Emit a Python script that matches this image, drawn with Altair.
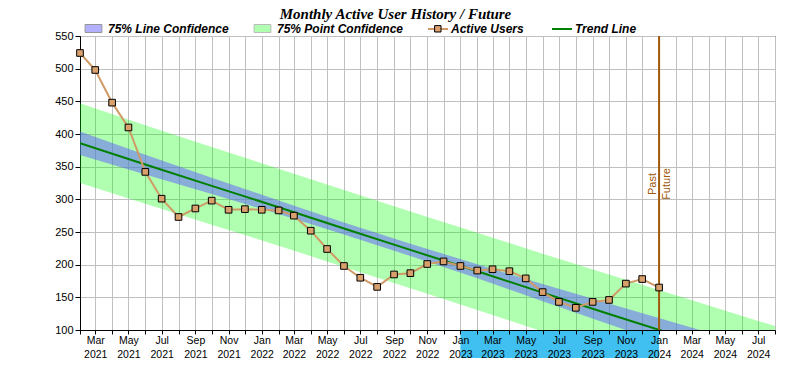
import altair as alt
import pandas as pd

# ---------------- data ----------------
months = pd.date_range("2021-02-01", "2024-01-01", freq="MS").strftime("%Y-%m-%d").tolist()
active_users = [524, 498, 448, 410, 342, 301, 273, 286, 298, 284,
                285, 284, 283, 275, 252, 224, 198, 180, 166, 185,
                187, 201, 205, 198, 191, 193, 190, 179, 158, 143,
                134, 143, 146, 171, 178, 165]

band_dates = ["2021-02-01", "2021-06-01", "2021-10-01", "2022-02-01", "2022-06-01",
              "2022-10-01", "2023-02-01", "2023-06-01", "2023-10-01", "2024-02-01",
              "2024-08-01"]
trend_line = [386.0, 353.3, 320.6, 288.0, 255.3, 222.6, 189.9, 157.2, 124.6, 91.9, 42.9]
line_conf_lo = [368.0, 338.2, 308.2, 277.6, 246.0, 213.2, 179.1, 144.1, 108.8, 73.1, 19.4]
line_conf_hi = [404.0, 368.4, 333.0, 298.4, 264.6, 232.0, 200.7, 170.3, 140.4, 110.7, 66.4]
point_conf_lo = [325.0, 293.2, 261.1, 229.0, 196.5, 163.8, 130.8, 97.6, 64.3, 30.6, -20.2]
point_conf_hi = [447.0, 413.4, 380.1, 347.0, 314.1, 281.4, 249.0, 216.8, 184.9, 153.2, 106.0]

divider_date = ["2024-01-01"]
divider_label_pos = [323.5]
highlight_start = ["2023-01-01"]
highlight_end = ["2024-01-01"]
y_ticks = list(range(100, 551, 50))

TITLE = "Monthly Active User History / Future"
BROWN = "#a0580a"
TAN_LINE = "#d09a66"
TAN_FILL = "#d9a06c"
SWATCH = "M-1.05,-0.5H1.05V0.5H-1.05Z"
LINE_SYM = "M-1.25,0H1.25"

# ---------------- frames ----------------
users_df = pd.DataFrame({"date": months, "users": active_users})
band_df = pd.DataFrame({"date": band_dates, "trend": trend_line,
                        "lc_lo": line_conf_lo, "lc_hi": line_conf_hi,
                        "pc_lo": point_conf_lo, "pc_hi": point_conf_hi})
div_df = pd.DataFrame({"date": divider_date, "pos": divider_label_pos})
hl_df = pd.DataFrame({"start": highlight_start, "end": highlight_end})

x_scale = alt.Scale(type="utc", nice=False,
                    domain=[alt.DateTime(year=2021, month=2, date=1, utc=True),
                            alt.DateTime(year=2024, month=8, date=1, utc=True)])
y_scale = alt.Scale(domain=[100, 550], nice=False, zero=False)
month_ticks = {"interval": "month", "step": 1}

x_grid = alt.X("date:T", scale=x_scale,
               axis=alt.Axis(orient="bottom", grid=True, gridColor="#c0c0c0", gridWidth=1,
                             labels=False, ticks=False, domain=False, title=None,
                             tickCount=month_ticks, zindex=0))
y_axis = alt.Axis(values=y_ticks, title=None, grid=True, gridColor="#c0c0c0",
                  tickSize=5, tickColor="black", labelPadding=2, labelFontSize=11,
                  labelFont="Liberation Sans", labelColor="black",
                  domain=True, domainColor="black", zindex=0)

LEG_Y = -16


def one_scale(name, colour):
    return alt.Scale(domain=[name], range=[colour])


point_band = alt.Chart(band_df).transform_calculate(series="'75% Point Confidence'").mark_area(
    opacity=1, fillOpacity=0.31, clip=True).encode(
    x=x_grid, y=alt.Y("pc_lo:Q", scale=y_scale, axis=y_axis), y2="pc_hi:Q",
    fill=alt.Fill("series:N", scale=one_scale("75% Point Confidence", "#00ff00"),
                  legend=alt.Legend(legendX=174, legendY=LEG_Y, symbolType=SWATCH,
                                    symbolOpacity=0.3, symbolStrokeColor="#202020",
                                    symbolStrokeWidth=1, labelOffset=6)))

line_band = alt.Chart(band_df).transform_calculate(series="'75% Line Confidence'").mark_area(
    opacity=1, fillOpacity=0.5, clip=True).encode(
    x=x_grid, y=alt.Y("lc_lo:Q", scale=y_scale, axis=y_axis), y2="lc_hi:Q",
    fill=alt.Fill("series:N", scale=one_scale("75% Line Confidence", "#605cff"),
                  legend=alt.Legend(legendX=5, legendY=LEG_Y, symbolType=SWATCH,
                                    symbolOpacity=0.47, symbolStrokeColor="#202020",
                                    symbolStrokeWidth=1, labelOffset=6)))

trend = alt.Chart(band_df).transform_calculate(series="'Trend Line'").mark_line(
    strokeWidth=2, clip=True).encode(
    x=x_grid, y=alt.Y("trend:Q", scale=y_scale, axis=y_axis),
    stroke=alt.Stroke("series:N", scale=one_scale("Trend Line", "#008000"),
                      legend=alt.Legend(legendX=473, legendY=LEG_Y, symbolType=LINE_SYM,
                                        symbolStrokeWidth=2, labelOffset=4)))

divider = alt.Chart(div_df).mark_rule(color=BROWN, strokeWidth=2).encode(x=x_grid)

users_line = alt.Chart(users_df).transform_calculate(series="'Active Users'").mark_line(
    strokeWidth=2, clip=True).encode(
    x=x_grid, y=alt.Y("users:Q", scale=y_scale, axis=y_axis),
    stroke=alt.Stroke("series:N", scale=one_scale("Active Users", TAN_LINE),
                      legend=alt.Legend(legendX=349, legendY=LEG_Y, symbolType=LINE_SYM,
                                        symbolStrokeWidth=2, labelOffset=4)))

users_pts = alt.Chart(users_df).transform_calculate(series="'Active Users'").mark_square(
    size=44, stroke="black", strokeWidth=1, opacity=1, fillOpacity=1).encode(
    x=x_grid, y=alt.Y("users:Q", scale=y_scale, axis=y_axis),
    fill=alt.Fill("series:N", scale=one_scale("Active Users", TAN_FILL),
                  legend=alt.Legend(legendX=353.8, legendY=LEG_Y + 4.8, symbolType="square",
                                    symbolSize=41, labelExpr="''", labelFontSize=1,
                                    symbolStrokeColor="black", symbolStrokeWidth=1)))

past_txt = alt.Chart(div_df).transform_calculate(label="'Past'").mark_text(
    angle=270, align="center", baseline="bottom", dy=-1, font="Liberation Sans", fontSize=11,
    color=BROWN).encode(x=x_grid, y=alt.Y("pos:Q", scale=y_scale, axis=y_axis), text="label:N")

future_txt = alt.Chart(div_df).transform_calculate(label="'Future'").mark_text(
    angle=270, align="center", baseline="top", dy=2, font="Liberation Sans", fontSize=11,
    color=BROWN).encode(x=x_grid, y=alt.Y("pos:Q", scale=y_scale, axis=y_axis), text="label:N")

plot_layers = alt.layer(point_band, line_band, trend, divider, users_line, users_pts,
                        past_txt, future_txt).resolve_scale(fill="independent",
                                                            stroke="independent")

x_labels = alt.X("start:T", scale=x_scale,
                 axis=alt.Axis(orient="bottom", grid=False, title=None, tickCount=month_ticks,
                               tickSize=4, tickColor="black", domain=True, domainColor="black",
                               labelExpr="utcmonth(datum.value) % 2 == 0 ? [utcFormat(datum.value, '%b'), utcFormat(datum.value, '%Y')] : ''",
                               labelFont="Liberation Sans", labelFontSize=10.5, labelColor="black",
                               labelLineHeight=14, labelPadding=1, labelOverlap=False,
                               labelBound=False, labelFlush=False, zindex=1))

highlight = alt.Chart(hl_df).mark_rect(color="#40c0f0", clip=False).encode(
    x=x_labels, x2="end:T", y=alt.value(294), y2=alt.value(330))

chart = alt.layer(highlight, plot_layers).resolve_axis(x="independent").properties(
    width=695, height=294,
    padding={"left": 72, "top": 28, "right": 7, "bottom": 28},
    autosize=alt.AutoSizeParams(type="none"),
    title=alt.TitleParams(TITLE, font="Liberation Serif", fontSize=15, fontWeight="bold",
                          fontStyle="italic", color="black", anchor="middle", frame="group",
                          dx=-32, offset=-13.5, baseline="alphabetic"),
).configure_view(stroke="black", strokeWidth=1).configure_legend(
    orient="none", direction="horizontal", title=None, padding=0, symbolSize=256,
    labelFont="Liberation Sans", labelFontSize=12, labelFontStyle="italic",
    labelFontWeight="bold", labelColor="black", labelLimit=0)

chart.save("out.html", embed_options={"renderer": "svg", "actions": False})
